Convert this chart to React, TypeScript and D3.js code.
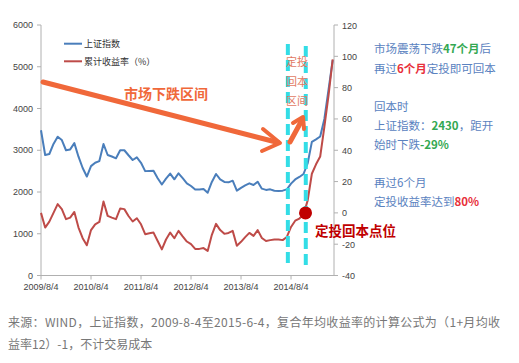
import React from "react";
import * as d3 from "d3";

// monthly closes, 2009/8 .. 2015/6
const sseIndex = [
  3480, 2886, 2910, 3150, 3325, 3245, 3000, 3020, 3170, 2845,
  2575, 2370, 2620, 2700, 2740, 3150, 2886, 2850, 2807, 3000,
  3000, 2880, 2766, 2830, 2700, 2500, 2505, 2510, 2330, 2180,
  2320, 2440, 2304, 2448, 2330, 2208, 2144, 2060, 2060, 2072,
  1983, 2240, 2431, 2300, 2240, 2232, 2271, 2032, 2100, 2160,
  2208, 2168, 2247, 2080, 2050, 2064, 2030, 2024, 2032, 2064,
  2200, 2300, 2360, 2431, 2690, 3200, 3260, 3330, 3750, 4450,
  5160,
];
const cumReturn = [
  0, -9.4, -5.6, 0, 5.6, 2.4, -4, -3, 0.6, -9.4,
  -16.2, -20.7, -11, -7.3, -5.8, 7.3, -1.9, -3, -4, 2.8,
  2.4, -2, -5.5, -3.4, -7.3, -13.6, -13, -12.6, -18, -23.3,
  -17, -12.6, -16.2, -11.5, -15, -18.3, -20, -23, -23, -22.5,
  -24.3, -14, -7, -11, -13.4, -12.8, -11.5, -21, -18.5, -15.5,
  -12.8, -14.7, -11, -16, -18, -17.4, -17, -17, -17.4, -15.4,
  -9, -5, -3.6, -1, 8, 25, 31, 36, 55, 75,
  98,
];
const xTickIdx = [0, 12, 24, 36, 48, 60];
const xTickLabels = ["2009/8/4", "2010/8/4", "2011/8/4", "2012/8/4", "2013/8/4", "2014/8/4"];
const leftTicks = [0, 1000, 2000, 3000, 4000, 5000, 6000];
const rightTicks = [-40, -20, 0, 20, 40, 60, 80, 100, 120];
const breakEvenIdx = 63;
const zoneStart = 59;
const zoneEnd = 63.3;

const W = 519;
const H = 363;
const axisFont = "Liberation Sans, Arial, sans-serif";
const cjk = "'Noto Sans CJK SC', sans-serif";
const BLUE = "#4a7ebb";
const RED = "#be4b48";
const ORANGE = "#f0683a";
const TXT = "#5a82c0";
const GREEN = "#33a852";
const HOT = "#e8303a";

export default function App() {
  const x = d3.scaleLinear().domain([0, 70]).range([41, 332.7]);
  const yL = d3.scaleLinear().domain([0, 6000]).range([275.5, 25]);
  const yR = d3.scaleLinear().domain([-40, 120]).range([275.5, 25]);

  const blueLine = d3.line<number>().x((_, i) => x(i)).y((d) => yL(d));
  const redLine = d3.line<number>().x((_, i) => x(i)).y((d) => yR(d));

  const rows = [
    { y: 53, parts: [["市场震荡下跌", TXT], ["47个月", GREEN], ["后", TXT]] },
    { y: 73, parts: [["再过", TXT], ["6个月", HOT], ["定投即可回本", TXT]] },
    { y: 111, parts: [["回本时", TXT]] },
    { y: 130, parts: [["上证指数：", TXT], ["2430", GREEN], ["，距开", TXT]] },
    { y: 149, parts: [["始时下跌", TXT], ["-29%", GREEN]] },
    { y: 187, parts: [["再过6个月", TXT]] },
    { y: 206, parts: [["定投收益率达到", TXT], ["80%", HOT]] },
  ];

  return (
    <svg width={W} height={H} style={{ position: "absolute", left: 0, top: 0, background: "#fff" }}>
      {/* left axis */}
      <line x1={41} x2={41} y1={25} y2={275.5} stroke="#b0b0b0" />
      {leftTicks.map((t) => (
        <g key={t}>
          <line x1={37} x2={41} y1={yL(t)} y2={yL(t)} stroke="#b0b0b0" />
          <text x={33} y={yL(t) + 3} textAnchor="end" fontSize={9} fill="#444" fontFamily={axisFont}>
            {t}
          </text>
        </g>
      ))}
      {/* right axis */}
      <line x1={334} x2={334} y1={25} y2={275.5} stroke="#b0b0b0" />
      {rightTicks.map((t) => (
        <g key={t}>
          <line x1={334} x2={338} y1={yR(t)} y2={yR(t)} stroke="#b0b0b0" />
          <text x={342} y={yR(t) + 3.5} fontSize={9} fill="#444" fontFamily={axisFont}>
            {t}
          </text>
        </g>
      ))}
      {/* bottom axis */}
      <line x1={41} x2={334} y1={275.5} y2={275.5} stroke="#b0b0b0" />
      {xTickIdx.map((t, i) => (
        <g key={t}>
          <line x1={x(t)} x2={x(t)} y1={275.5} y2={279.5} stroke="#b0b0b0" />
          <text x={x(t)} y={290} textAnchor="middle" fontSize={9} fill="#444" fontFamily={axisFont}>
            {xTickLabels[i]}
          </text>
        </g>
      ))}

      {/* legend */}
      <line x1={64} x2={82} y1={43.7} y2={43.7} stroke={BLUE} strokeWidth={2} />
      <text x={84} y={47} fontSize={9} fill="#333" fontFamily={cjk}>上证指数</text>
      <line x1={64} x2={82} y1={61.3} y2={61.3} stroke={RED} strokeWidth={2} />
      <text x={84} y={64.5} fontSize={9} fill="#333" fontFamily={cjk}>累计收益率（%）</text>

      {/* series */}
      <path d={blueLine(sseIndex) ?? ""} fill="none" stroke={BLUE} strokeWidth={2} strokeLinejoin="round" />
      <path d={redLine(cumReturn) ?? ""} fill="none" stroke={RED} strokeWidth={2} strokeLinejoin="round" />

      {/* break-even zone */}
      {[zoneStart, zoneEnd].map((z, i) => (
        <line key={i} x1={x(z) + 1} x2={x(z) + 1} y1={44 + i * 2} y2={268} stroke="#33dde6" strokeWidth={4} strokeDasharray="11 5" />
      ))}
      {["定投", "回本", "区间"].map((s, i) => (
        <text key={s} x={297} y={66 + i * 19.5} textAnchor="middle" fontSize={11} fill="#e27a63" fontFamily={cjk}>
          {s}
        </text>
      ))}

      {/* big arrow */}
      <line x1={43} y1={82} x2={278} y2={142.5} stroke={ORANGE} strokeWidth={5} strokeLinecap="round" />
      <polyline points="263,129 280,143 262,151" fill="none" stroke={ORANGE} strokeWidth={4} strokeLinejoin="round" strokeLinecap="round" />
      <text x={124} y={99} fontSize={14} fontWeight="bold" fill={ORANGE} fontFamily={cjk}>市场下跌区间</text>

      {/* small arrow */}
      <line x1={290} y1={142} x2={302} y2={120} stroke={ORANGE} strokeWidth={5} strokeLinecap="round" />
      <polyline points="293,123 303,117 304,129" fill="none" stroke={ORANGE} strokeWidth={4} strokeLinejoin="round" strokeLinecap="round" />

      {/* break-even point */}
      <circle cx={x(breakEvenIdx) + 2} cy={yR(0)} r={6.5} fill="#c00000" />
      <text x={315} y={235.5} fontSize={13.5} fontWeight="bold" fill="#c00000" fontFamily={cjk}>定投回本点位</text>

      {/* notes */}
      {rows.map((r) => (
        <text key={r.y} x={374} y={r.y} fontSize={11.5} fontFamily={cjk}>
          {r.parts.map(([s, c], i) => (
            <tspan key={i} fill={c} fontWeight={c === TXT ? 400 : 700}>{s}</tspan>
          ))}
        </text>
      ))}

      {/* caption */}
      <text x={8} y={327} fontSize={12} fill="#777" fontFamily={cjk} textLength={492} lengthAdjust="spacing">
        来源：WIND，上证指数，2009-8-4至2015-6-4，复合年均收益率的计算公式为（1+月均收
      </text>
      <text x={8} y={349} fontSize={12} fill="#777" fontFamily={cjk}>
        益率12）-1，不计交易成本
      </text>
    </svg>
  );
}
